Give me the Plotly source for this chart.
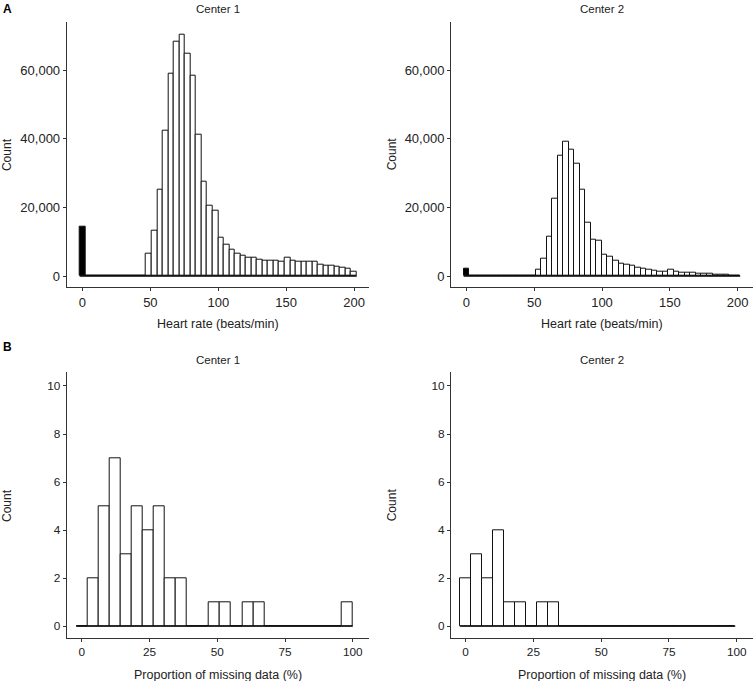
import plotly.graph_objects as go

# ---------------- data ----------------
# Panel A: heart-rate histograms (50 bins, centers at k * hr_binwidth)
hr_binwidth = 4.08
hr_center1 = [14500, 0, 0, 0, 0, 0, 0, 0, 0, 0,
              0, 200, 6400, 13300, 25050, 42430, 59040, 68260, 70400, 64860,
              58450, 41270, 27380, 20390, 18930, 11260, 9100, 7700, 6500, 6000,
              5400, 5250, 4760, 4500, 4560, 4470, 4270, 5480, 4560, 4180,
              4080, 4080, 4130, 3420, 3110, 3010, 2720, 2430, 2140, 1360]
hr_center2 = [2000, 0, 0, 0, 0, 0, 0, 0, 0, 0,
              0, 0, 200, 1940, 4950, 11500, 22530, 35150, 39130, 36700,
              32630, 25250, 15680, 10680, 10290, 6180, 5600, 4330, 3690, 3160,
              3010, 2560, 2140, 1940, 1650, 1400, 1360, 1750, 1260, 1070,
              970, 870, 780, 680, 580, 490, 390, 290, 190, 190]

# Panel B: proportion of missing data (25 bins, centers at k * binwidth)
miss_binwidth1 = 4.083
miss_binwidth2 = 4.06
miss_center1 = [0, 2, 5, 7, 3, 5, 4, 5, 2, 2, 0, 0, 1, 1, 0, 1, 1,
                0, 0, 0, 0, 0, 0, 0, 1]
miss_center2 = [2, 3, 2, 4, 1, 1, 0, 1, 1, 0, 0, 0, 0, 0, 0, 0, 0,
                0, 0, 0, 0, 0, 0, 0, 0]

hr_xticks = [0, 50, 100, 150, 200]
hr_yticks = [0, 20000, 40000, 60000]
miss_xticks = [0, 25, 50, 75, 100]
miss_yticks = [0, 2, 4, 6, 8, 10]

titles = ["Center 1", "Center 2", "Center 1", "Center 2"]

# ---------------- figure ----------------
W, H = 755, 681
FONT = "Liberation Sans"
TXT = "#222222"

fig = go.Figure()

def px_x(p):
    return p / W

def px_y(p):
    return 1 - p / H

panels = [
    dict(counts=hr_center1, bw=hr_binwidth, xd=[66.7, 369], yd=[21.7, 287], ax="x", ay="y",
         xr=[-11.6, 211.0], yr=[-3200, 74100], xt=hr_xticks, yt=hr_yticks, tf=13,
         xtitle="Heart rate (beats/min)", hl=True),
    dict(counts=hr_center2, bw=hr_binwidth, xd=[451, 753], yd=[21.7, 287], ax="x2", ay="y2",
         xr=[-11.4, 211.4], yr=[-3200, 74100], xt=hr_xticks, yt=hr_yticks, tf=13,
         xtitle="Heart rate (beats/min)", hl=True),
    dict(counts=miss_center1, bw=miss_binwidth1, xd=[66.7, 369], yd=[372.3, 638.3], ax="x3", ay="y3",
         xr=[-5.6, 106.0], yr=[-0.51, 10.57], xt=miss_xticks, yt=miss_yticks, tf=11.8,
         xtitle="Proportion of missing data (%)", hl=False),
    dict(counts=miss_center2, bw=miss_binwidth2, xd=[451, 753], yd=[372.3, 638.3], ax="x4", ay="y4",
         xr=[-5.4, 106.0], yr=[-0.51, 10.57], xt=miss_xticks, yt=miss_yticks, tf=11.8,
         xtitle="Proportion of missing data (%)", hl=False),
]

annotations = []
for i, p in enumerate(panels):
    n = len(p["counts"])
    centers = [k * p["bw"] for k in range(n)]
    colors = ["black" if (p["hl"] and c == 0) else "white" for c in centers]
    fig.add_trace(go.Bar(
        x=centers, y=p["counts"], width=p["bw"],
        marker=dict(color=colors, line=dict(color="#111111", width=1.0)),
        xaxis=p["ax"], yaxis=p["ay"], showlegend=False, hoverinfo="skip",
    ))
    # baseline drawn by zero-count bins
    fig.add_trace(go.Scatter(
        x=[centers[0] - p["bw"] / 2, centers[-1] + p["bw"] / 2], y=[0, 0],
        mode="lines", line=dict(color="black", width=1.3),
        xaxis=p["ax"], yaxis=p["ay"], showlegend=False, hoverinfo="skip",
    ))
    suffix = "" if i == 0 else str(i + 1)
    axis_common = dict(showline=True, linecolor="#333333", linewidth=1, ticks="outside",
                       ticklen=3, tickcolor="#333333", showgrid=False, zeroline=False,
                       tickfont=dict(family=FONT, size=p["tf"], color=TXT))
    fig.update_layout(**{
        "xaxis" + suffix: dict(domain=[px_x(p["xd"][0]), px_x(p["xd"][1])],
                               anchor="y" + suffix, range=p["xr"],
                               tickvals=p["xt"], **axis_common),
        "yaxis" + suffix: dict(domain=[px_y(p["yd"][1]), px_y(p["yd"][0])],
                               anchor="x" + suffix, range=p["yr"],
                               tickvals=p["yt"], tickformat=",d", **axis_common),
    })
    xmid = (p["xd"][0] + p["xd"][1]) / 2
    # panel title
    annotations.append(dict(text=titles[i], x=px_x(xmid), y=px_y(p["yd"][0] - 12.5),
                            xref="paper", yref="paper", showarrow=False,
                            xanchor="center", yanchor="middle",
                            font=dict(family=FONT, size=11.5, color=TXT)))
    # x title
    annotations.append(dict(text=p["xtitle"], x=px_x(xmid), y=px_y(p["yd"][1] + 37),
                            xref="paper", yref="paper", showarrow=False,
                            xanchor="center", yanchor="middle",
                            font=dict(family=FONT, size=12.5, color=TXT)))
    # y title
    annotations.append(dict(text="Count", x=px_x(p["xd"][0] - 59), y=px_y((p["yd"][0] + p["yd"][1]) / 2),
                            xref="paper", yref="paper", showarrow=False, textangle=-90,
                            xanchor="center", yanchor="middle",
                            font=dict(family=FONT, size=12, color=TXT)))

annotations.append(dict(text="<b>A</b>", x=px_x(1), y=px_y(0), xref="paper", yref="paper",
                        showarrow=False, xanchor="left", yanchor="top",
                        font=dict(family=FONT, size=12, color="black")))
annotations.append(dict(text="<b>B</b>", x=px_x(1), y=px_y(338), xref="paper", yref="paper",
                        showarrow=False, xanchor="left", yanchor="top",
                        font=dict(family=FONT, size=12, color="black")))

fig.update_layout(
    width=W, height=H, autosize=False,
    margin=dict(l=0, r=0, t=0, b=0),
    paper_bgcolor="white", plot_bgcolor="white",
    bargap=0, annotations=annotations,
    font=dict(family=FONT, color=TXT),
)

fig.write_html(
    "out.html",
    config={"displayModeBar": False},
    post_script="document.body.style.margin='0';document.body.style.overflow='hidden';"
                "document.documentElement.style.overflow='hidden';",
)
